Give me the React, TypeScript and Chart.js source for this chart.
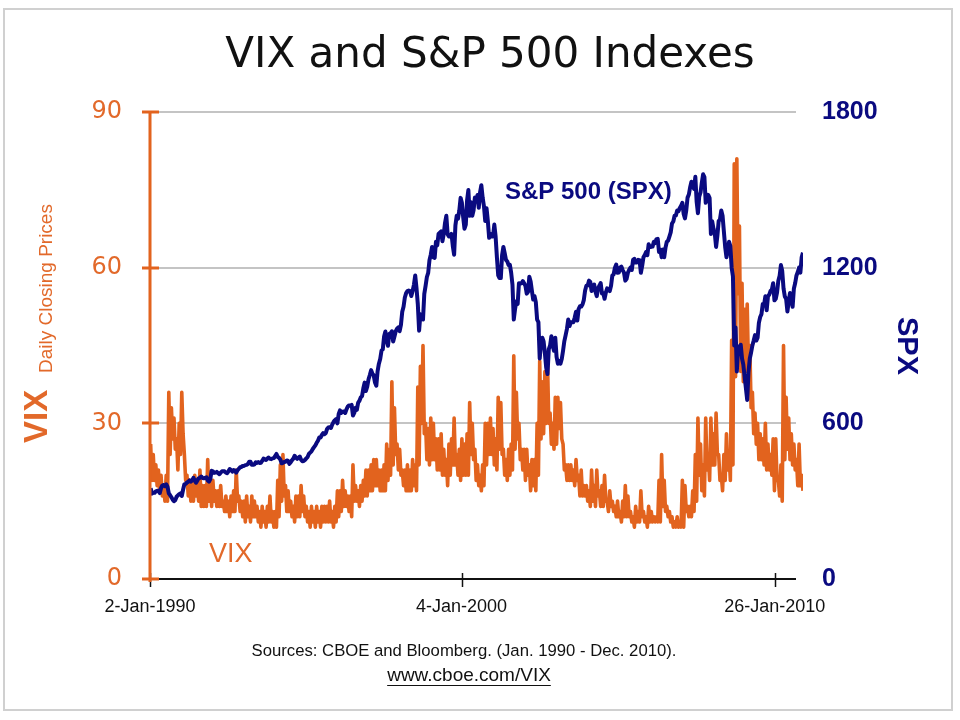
import React, { useEffect, useRef } from 'react';
import { Chart, registerables } from 'chart.js';

Chart.register(...registerables);

// ---------- data ----------
const START_YEAR = 1990;
const POINTS_PER_YEAR = 24; // two readings per month

// VIX daily closing prices, two readings per month (Jan 1990 - Dec 2010)
const VIX_VALUES = [
  26, 19, 24, 19, 22, 18, 21, 17, 20, 16, 18, 15, 20, 15, 36, 24, 33, 27, 31, 25, 27, 21, 30, 24, // 1990
  36, 28, 24, 19, 20, 16, 19, 15, 19, 15, 20, 16, 18, 15, 21, 14, 18, 14, 18, 14, 23, 15, 19, 14, // 1991
  19, 15, 17, 14, 17, 14, 18, 14, 15, 13, 16, 13, 15, 12, 16, 13, 17, 13, 21, 15, 16, 13, 15, 12, // 1992
  15, 11, 16, 12, 14, 11, 16, 12, 15, 12, 14, 11, 13, 10, 14, 11, 13, 10, 14, 11, 16, 11, 13, 10, // 1993
  13, 10, 19, 12, 22, 15, 24, 16, 18, 13, 17, 13, 15, 12, 14, 11, 16, 12, 16, 12, 18, 13, 16, 12, // 1994
  14, 11, 13, 10, 14, 11, 13, 10, 14, 11, 13, 10, 14, 11, 14, 11, 14, 11, 15, 11, 13, 10, 14, 11, // 1995
  17, 12, 17, 13, 19, 14, 17, 14, 16, 13, 16, 12, 22, 15, 18, 15, 17, 14, 18, 15, 19, 16, 21, 16, // 1996
  21, 17, 22, 17, 23, 18, 23, 18, 21, 17, 21, 17, 22, 17, 26, 19, 25, 20, 38, 22, 33, 24, 26, 21, // 1997
  25, 20, 21, 18, 21, 17, 22, 17, 21, 17, 23, 18, 22, 17, 37, 22, 41, 30, 45, 28, 30, 23, 29, 22, // 1998
  31, 23, 30, 23, 27, 21, 27, 21, 28, 20, 25, 20, 23, 18, 26, 20, 27, 22, 31, 22, 24, 20, 25, 19, // 1999
  27, 20, 26, 20, 28, 20, 34, 24, 30, 23, 25, 19, 22, 18, 20, 17, 22, 18, 30, 22, 30, 24, 31, 24, // 2000
  29, 22, 27, 21, 35, 25, 34, 24, 25, 20, 23, 19, 25, 20, 26, 21, 43, 25, 36, 27, 30, 23, 25, 21, // 2001
  25, 19, 25, 20, 22, 17, 23, 18, 23, 17, 30, 20, 42, 27, 38, 28, 40, 30, 42, 30, 32, 26, 30, 25, // 2002
  35, 26, 35, 29, 34, 27, 26, 21, 22, 19, 22, 19, 22, 19, 21, 18, 23, 19, 20, 16, 21, 16, 18, 16, // 2003
  18, 15, 17, 14, 21, 15, 18, 14, 21, 16, 17, 14, 18, 14, 20, 15, 15, 13, 17, 14, 15, 13, 14, 12, // 2004
  15, 12, 13, 11, 15, 12, 18, 12, 16, 12, 13, 11, 12, 10, 14, 11, 13, 11, 17, 12, 13, 11, 12, 10, // 2005
  14, 11, 13, 11, 12, 11, 12, 11, 19, 11, 24, 14, 19, 13, 14, 12, 13, 11, 12, 10, 11, 10, 12, 10, // 2006
  11, 10, 19, 10, 18, 13, 14, 12, 14, 12, 17, 13, 24, 15, 31, 20, 26, 17, 22, 16, 31, 21, 24, 19, // 2007
  31, 22, 28, 22, 32, 24, 24, 19, 20, 17, 24, 19, 28, 21, 24, 19, 46, 22, 80, 39, 81, 55, 68, 40, // 2008
  57, 38, 52, 40, 53, 40, 45, 33, 36, 28, 32, 26, 30, 23, 28, 23, 27, 22, 30, 21, 26, 21, 24, 20, // 2009
  27, 17, 27, 19, 19, 16, 22, 15, 45, 23, 35, 25, 31, 23, 28, 22, 26, 21, 23, 18, 26, 18, 20, 17, // 2010
];

// S&P 500 index level, two readings per month (Jan 1990 - Dec 2010)
const SPX_VALUES = [
  350, 329, 332, 332, 338, 340, 340, 331, 350, 361, 362, 358, 365, 356, 330, 323, 315, 306, 300, 304, 317, 322, 327, 330, // 1990
  320, 344, 365, 367, 372, 375, 380, 375, 380, 390, 380, 371, 380, 388, 390, 395, 390, 388, 390, 392, 380, 375, 385, 417, // 1991
  415, 409, 410, 413, 408, 404, 410, 415, 415, 415, 410, 408, 415, 424, 420, 414, 420, 418, 410, 419, 425, 431, 432, 436, // 1992
  436, 439, 440, 443, 452, 452, 440, 440, 442, 450, 447, 451, 447, 448, 455, 464, 460, 459, 465, 468, 463, 462, 465, 466, // 1993
  474, 482, 470, 467, 460, 446, 448, 451, 452, 457, 455, 444, 450, 458, 464, 475, 468, 463, 468, 472, 460, 454, 455, 459, // 1994
  465, 470, 482, 487, 492, 501, 508, 515, 525, 533, 545, 545, 555, 562, 558, 562, 578, 584, 585, 582, 595, 605, 612, 616, // 1995
  600, 636, 650, 640, 645, 646, 640, 654, 665, 669, 668, 671, 630, 640, 660, 652, 680, 687, 700, 705, 735, 757, 725, 741, // 1996
  770, 786, 805, 791, 785, 757, 745, 801, 830, 848, 880, 885, 935, 954, 920, 899, 945, 947, 955, 915, 935, 955, 965, 970, // 1997
  955, 980, 1030, 1049, 1085, 1102, 1110, 1112, 1110, 1091, 1110, 1134, 1170, 1121, 1060, 957, 1020, 1017, 1000, 1099, 1130, 1164, 1180, 1229, // 1998
  1250, 1280, 1240, 1238, 1300, 1286, 1330, 1335, 1340, 1302, 1330, 1373, 1400, 1329, 1320, 1320, 1330, 1283, 1250, 1363, 1400, 1389, 1420, 1469, // 1999
  1450, 1394, 1350, 1366, 1460, 1499, 1400, 1452, 1400, 1421, 1470, 1455, 1480, 1431, 1490, 1518, 1470, 1437, 1380, 1429, 1380, 1315, 1330, 1320, // 2000
  1320, 1366, 1320, 1240, 1170, 1160, 1160, 1249, 1280, 1256, 1230, 1224, 1210, 1211, 1180, 1134, 1000, 1041, 1070, 1060, 1140, 1139, 1140, 1148, // 2001
  1140, 1130, 1100, 1107, 1165, 1147, 1110, 1077, 1090, 1067, 1000, 990, 850, 912, 930, 916, 870, 815, 790, 886, 900, 936, 900, 880, // 2002
  930, 856, 830, 841, 830, 848, 880, 917, 940, 964, 1000, 975, 990, 990, 990, 1008, 1030, 996, 1040, 1051, 1050, 1058, 1075, 1112, // 2003
  1130, 1131, 1150, 1145, 1110, 1126, 1135, 1107, 1090, 1121, 1130, 1141, 1100, 1102, 1080, 1104, 1120, 1115, 1110, 1130, 1170, 1174, 1200, 1212, // 2004
  1180, 1181, 1200, 1204, 1190, 1181, 1150, 1157, 1180, 1192, 1200, 1191, 1230, 1234, 1220, 1220, 1230, 1229, 1180, 1207, 1240, 1249, 1260, 1248, // 2005
  1290, 1280, 1280, 1281, 1300, 1295, 1310, 1311, 1260, 1270, 1240, 1270, 1240, 1277, 1300, 1304, 1320, 1336, 1370, 1378, 1400, 1401, 1420, 1418, // 2006
  1430, 1438, 1450, 1407, 1390, 1421, 1470, 1482, 1510, 1531, 1520, 1503, 1550, 1455, 1410, 1474, 1490, 1527, 1560, 1549, 1450, 1481, 1480, 1468, // 2007
  1330, 1379, 1350, 1331, 1280, 1323, 1380, 1386, 1420, 1400, 1340, 1280, 1240, 1267, 1300, 1283, 1200, 1166, 900, 969, 800, 896, 880, 903, // 2008
  850, 826, 780, 735, 690, 798, 850, 873, 900, 919, 940, 919, 930, 987, 1010, 1021, 1060, 1057, 1090, 1036, 1090, 1096, 1110, 1115, // 2009
  1140, 1074, 1080, 1104, 1150, 1169, 1210, 1187, 1120, 1089, 1080, 1031, 1070, 1102, 1080, 1049, 1120, 1141, 1170, 1183, 1200, 1181, 1240, 1258, // 2010
];

const X_TICK_VALUES = [1990.0, 2000.01, 2010.07];
const X_TICK_LABELS = ['2-Jan-1990', '4-Jan-2000', '26-Jan-2010'];
const VIX_TICKS = [0, 30, 60, 90];
const SPX_TICKS = [0, 600, 1200, 1800];

const TITLE = 'VIX and S&P 500 Indexes';
const SPX_LABEL = 'S&P 500 (SPX)';
const VIX_LABEL = 'VIX';
const LEFT_TITLE_MAIN = 'VIX';
const LEFT_TITLE_SUB = 'Daily Closing Prices';
const RIGHT_TITLE = 'SPX';
const SOURCES = 'Sources: CBOE and Bloomberg. (Jan. 1990 - Dec. 2010).';
const URL_TEXT = 'www.cboe.com/VIX';

// ---------- styles ----------
const ORANGE = '#E2631E';
const ORANGE_TEXT = '#E2692A';
const NAVY = '#0A0A80';
const SANS = '"Liberation Sans", Arial, sans-serif';
const DEJAVU = '"DejaVu Sans", Verdana, sans-serif';

const toXY = (vals: number[]) =>
  vals.map((v, i) => ({ x: START_YEAR + (i + 0.5) / POINTS_PER_YEAR, y: v }));

const decorations = {
  id: 'decorations',
  beforeDraw(chart: any) {
    const ctx = chart.ctx;
    ctx.save();
    ctx.fillStyle = '#ffffff';
    ctx.fillRect(0, 0, chart.width, chart.height);
    ctx.strokeStyle = '#d0d0d0';
    ctx.lineWidth = 2;
    ctx.strokeRect(4, 9, 948, 701);
    ctx.restore();
  },
  beforeDatasetsDraw(chart: any) {
    const { ctx, chartArea, scales } = chart;
    const left = chartArea.left;
    const axisEnd = chartArea.right - 7;
    ctx.save();
    ctx.strokeStyle = '#c4c4c4';
    ctx.lineWidth = 2;
    VIX_TICKS.forEach((v) => {
      if (v === 0) return;
      const y = Math.round(scales.y.getPixelForValue(v));
      ctx.beginPath();
      ctx.moveTo(left, y);
      ctx.lineTo(axisEnd, y);
      ctx.stroke();
    });
    ctx.restore();
  },
  afterDatasetsDraw(chart: any) {
    const { ctx, chartArea, scales } = chart;
    const left = chartArea.left;
    const bottom = chartArea.bottom;
    const axisEnd = chartArea.right - 7;
    ctx.save();
    // x axis line
    ctx.strokeStyle = '#111';
    ctx.lineWidth = 2;
    ctx.beginPath();
    ctx.moveTo(left - 7, bottom);
    ctx.lineTo(axisEnd, bottom);
    ctx.stroke();
    ctx.lineWidth = 1.5;
    X_TICK_VALUES.forEach((v) => {
      const x = Math.round(scales.x.getPixelForValue(v)) + 0.5;
      ctx.beginPath();
      ctx.moveTo(x, bottom - 6);
      ctx.lineTo(x, bottom + 8);
      ctx.stroke();
    });
    // left orange axis
    ctx.strokeStyle = ORANGE;
    ctx.lineWidth = 3;
    ctx.beginPath();
    ctx.moveTo(left, chartArea.top);
    ctx.lineTo(left, bottom + 3);
    ctx.stroke();
    VIX_TICKS.forEach((v) => {
      const y = Math.round(scales.y.getPixelForValue(v));
      ctx.beginPath();
      ctx.moveTo(left - 8, y);
      ctx.lineTo(left + 9, y);
      ctx.stroke();
    });
    ctx.restore();
  },
  afterDraw(chart: any) {
    const ctx = chart.ctx;
    ctx.save();
    ctx.textBaseline = 'alphabetic';

    // title
    ctx.fillStyle = '#111';
    ctx.font = `42px ${DEJAVU}`;
    ctx.textAlign = 'center';
    ctx.fillText(TITLE, 490, 67);

    // series labels
    ctx.textAlign = 'left';
    ctx.fillStyle = NAVY;
    ctx.font = `bold 24px ${SANS}`;
    ctx.fillText(SPX_LABEL, 505, 199);
    ctx.fillStyle = ORANGE_TEXT;
    ctx.font = `27px ${SANS}`;
    ctx.fillText(VIX_LABEL, 209, 562);

    // left axis title (rotated)
    ctx.save();
    ctx.translate(47, 443);
    ctx.rotate(-Math.PI / 2);
    ctx.fillStyle = ORANGE_TEXT;
    ctx.font = `bold 33px ${SANS}`;
    ctx.fillText(LEFT_TITLE_MAIN, 0, 0);
    ctx.font = `19px ${SANS}`;
    ctx.fillText(LEFT_TITLE_SUB, 70, 5);
    ctx.restore();

    // right axis title (rotated)
    ctx.save();
    ctx.translate(898, 317);
    ctx.rotate(Math.PI / 2);
    ctx.fillStyle = NAVY;
    ctx.font = `bold 29px ${SANS}`;
    ctx.fillText(RIGHT_TITLE, 0, 0);
    ctx.restore();

    // sources
    ctx.textAlign = 'center';
    ctx.fillStyle = '#111';
    ctx.font = `16.7px ${SANS}`;
    ctx.fillText(SOURCES, 464, 656);
    ctx.font = `19px ${SANS}`;
    ctx.fillText(URL_TEXT, 469, 681);
    const w = ctx.measureText(URL_TEXT).width;
    ctx.strokeStyle = '#111';
    ctx.lineWidth = 1.2;
    ctx.beginPath();
    ctx.moveTo(469 - w / 2, 685.5);
    ctx.lineTo(469 + w / 2, 685.5);
    ctx.stroke();
    ctx.restore();
  },
};

export default function App() {
  const ref = useRef<HTMLCanvasElement | null>(null);

  useEffect(() => {
    if (!ref.current) return;
    const chart = new Chart(ref.current, {
      type: 'line',
      data: {
        datasets: [
          {
            label: 'S&P 500 (SPX)',
            data: toXY(SPX_VALUES),
            yAxisID: 'y1',
            borderColor: NAVY,
            borderWidth: 4,
            pointRadius: 0,
            tension: 0,
            borderJoinStyle: 'round',
            fill: false,
          },
          {
            label: 'VIX',
            data: toXY(VIX_VALUES),
            yAxisID: 'y',
            borderColor: ORANGE,
            borderWidth: 3.6,
            pointRadius: 0,
            tension: 0,
            borderJoinStyle: 'round',
            fill: false,
          },
        ],
      },
      options: {
        animation: false,
        responsive: false,
        devicePixelRatio: 1,
        layout: { padding: { top: 112, bottom: 101, left: 0, right: 0 } },
        plugins: {
          legend: { display: false },
          tooltip: { enabled: false },
          title: { display: false },
        },
        scales: {
          x: {
            type: 'linear',
            min: START_YEAR,
            max: 2010.98,
            grid: { display: false, drawTicks: false },
            border: { display: false },
            afterBuildTicks: (s: any) => {
              s.ticks = X_TICK_VALUES.map((v) => ({ value: v }));
            },
            afterFit: (s: any) => {
              s.height = 40;
            },
            ticks: {
              autoSkip: false,
              maxRotation: 0,
              padding: 17,
              color: '#111',
              font: { family: SANS, size: 18 },
              callback: (_v: any, i: number) => X_TICK_LABELS[i],
            },
          },
          y: {
            type: 'linear',
            position: 'left',
            min: 0,
            max: 90,
            grid: { display: false, drawTicks: false },
            border: { display: false },
            afterBuildTicks: (s: any) => {
              s.ticks = VIX_TICKS.map((v) => ({ value: v }));
            },
            afterFit: (s: any) => {
              s.width = 150;
            },
            ticks: {
              padding: 28,
              color: ORANGE_TEXT,
              font: { family: DEJAVU, size: 24 },
              callback: (v: any) => String(v),
            },
          },
          y1: {
            type: 'linear',
            position: 'right',
            min: 0,
            max: 1800,
            grid: { display: false, drawTicks: false },
            border: { display: false },
            afterBuildTicks: (s: any) => {
              s.ticks = SPX_TICKS.map((v) => ({ value: v }));
            },
            afterFit: (s: any) => {
              s.width = 157;
            },
            ticks: {
              padding: 19,
              color: NAVY,
              font: { family: SANS, size: 25, weight: 'bold' },
              callback: (v: any) => String(v),
            },
          },
        },
      },
      plugins: [decorations],
    } as any);
    return () => chart.destroy();
  }, []);

  return (
    <div
      style={{
        position: 'absolute',
        left: 0,
        top: 0,
        width: 960,
        height: 720,
        background: '#fff',
      }}
    >
      <canvas ref={ref} width={960} height={720} style={{ display: 'block' }} />
    </div>
  );
}
